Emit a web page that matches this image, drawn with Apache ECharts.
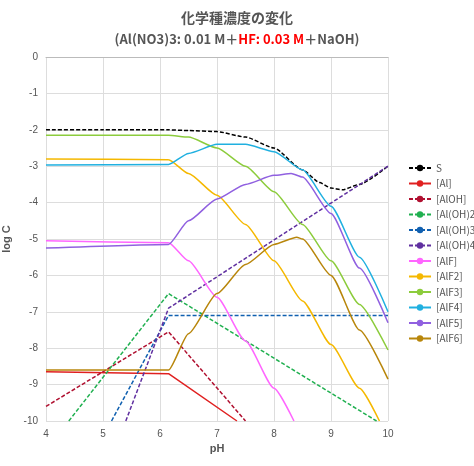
<!DOCTYPE html><html><head><meta charset="utf-8"><script src="https://cdn.jsdelivr.net/npm/echarts@6/dist/echarts.min.js"></script></head><body style="margin:0"><div id="c" style="width:474px;height:466px"></div><script>
const names=['S','[Al]','[AlOH]','[Al(OH)2]','[Al(OH)3]','[Al(OH)4]','[AlF]','[AlF2]','[AlF3]','[AlF4]','[AlF5]','[AlF6]'];
const colors=['#000000','#e02020','#b01030','#20b050','#1060b0','#6030a0','#ff66ff','#f5b800','#8ccc3c','#20b0e0','#9060e0','#b8860b'];
const dashed=[true,false,true,true,true,true,false,false,false,false,false,false];
const S=[[4,-2],[5,-2],[6.15,-2],[6.5,-2.02],[7,-2.05],[7.5,-2.2],[8,-2.5],[8.5,-3.1],[8.8,-3.45],[9,-3.6],[9.2,-3.65],[9.5,-3.5],[10,-3.0]];
const Al=[[4,-8.65],[6.15,-8.7],[7.35,-10]];
const AlOH=[[4,-9.6],[6.15,-7.55],[7.5,-10]];
const AlOH2=[[4.4,-10],[6.15,-6.5],[9.8,-10]];
const AlOH3=[[5.15,-10],[6.15,-7.1],[10,-7.1]];
const AlOH4=[[5.4,-10],[6.15,-6.9],[10,-3.0]];
const AlF=[[4,-5.05],[6.15,-5.1],[6.5,-5.6],[7,-6.6],[7.5,-7.8],[8,-9.1],[8.35,-10]];
const AlF2=[[4,-2.8],[6.15,-2.82],[6.5,-3.2],[7,-3.8],[7.5,-4.6],[8,-5.6],[8.5,-6.7],[9,-7.9],[9.5,-9.1],[9.85,-10]];
const AlF3=[[4,-2.15],[6.15,-2.15],[6.5,-2.2],[7,-2.5],[7.5,-3.0],[8,-3.7],[8.5,-4.6],[9,-5.6],[9.5,-6.8],[10,-8.05]];
const AlF4=[[4,-2.97],[6.15,-2.95],[6.5,-2.65],[7,-2.4],[7.5,-2.4],[8,-2.6],[8.5,-3.1],[9,-4.1],[9.5,-5.5],[10,-7.0]];
const AlF5=[[4,-5.25],[6.15,-5.15],[6.5,-4.5],[7,-3.9],[7.5,-3.5],[8,-3.25],[8.3,-3.2],[8.5,-3.3],[9,-4.3],[9.5,-5.8],[10,-7.3]];
const AlF6=[[4,-8.6],[6.15,-8.6],[6.5,-7.6],[7,-6.5],[7.5,-5.7],[8,-5.15],[8.4,-4.95],[8.5,-5.0],[9,-6.0],[9.5,-7.5],[10,-8.85]];
const data=[S,Al,AlOH,AlOH2,AlOH3,AlOH4,AlF,AlF2,AlF3,AlF4,AlF5,AlF6];
const font='"Noto Sans CJK JP","Noto Sans",sans-serif';
const ch=echarts.init(document.getElementById('c'));
ch.setOption({
 animation:false,
 title:{text:'化学種濃度の変化',subtext:'{a|(Al(NO3)3: 0.01 M＋}{b|HF: 0.03 M}{a|＋NaOH)}',left:'center',top:6,itemGap:8,
  textStyle:{fontSize:14,fontWeight:'bold',color:'#555',fontFamily:font},
  subtextStyle:{rich:{a:{fontSize:13,fontWeight:'bold',color:'#555',fontFamily:font},b:{fontSize:13,fontWeight:'bold',color:'#ff0000',fontFamily:font}}}},
 grid:{left:46,right:86,top:57,bottom:45,outerBoundsMode:'none'},
 legend:{orient:'vertical',left:403,top:158,itemWidth:22,itemHeight:8,itemGap:5.5,
  textStyle:{fontSize:10,color:'#555',fontFamily:font},data:names},
 xAxis:{type:'value',min:4,max:10,interval:1,name:'pH',nameLocation:'middle',nameGap:20,
  nameTextStyle:{fontSize:11,fontWeight:'bold',color:'#555'},
  axisLine:{lineStyle:{color:'#bbb'}},axisTick:{show:false},axisLabel:{color:'#555',fontSize:10},
  splitLine:{lineStyle:{color:'#ddd'}}},
 yAxis:{type:'value',min:-10,max:0,interval:1,name:'log C',nameLocation:'middle',nameGap:28,
  nameTextStyle:{fontSize:11,fontWeight:'bold',color:'#555'},
  axisLine:{show:false},axisTick:{show:false},axisLabel:{color:'#555',fontSize:10},
  splitLine:{lineStyle:{color:'#ddd'}}},
 series:names.map((n,i)=>({name:n,type:'line',data:data[i],smooth:(i>=6||i==0)?0.2:false,smoothMonotone:'x',showSymbol:false,symbol:'none',clip:true,
  itemStyle:{color:colors[i]},lineStyle:{color:colors[i],width:1.5,type:dashed[i]?[4,2]:'solid'}}))
});
</script></body></html>
